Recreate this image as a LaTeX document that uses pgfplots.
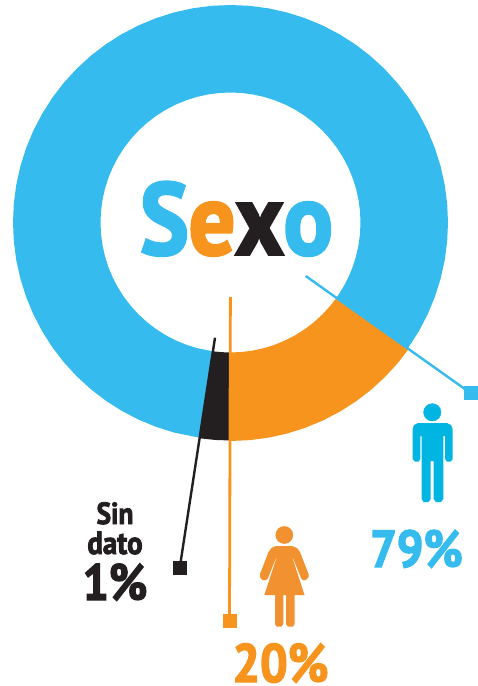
\documentclass[border=0pt]{standalone}
\usepackage{pgfplots}
\pgfplotsset{compat=1.18}
\usepackage{fontspec}
\setmainfont{PT Sans}
\newfontfamily\hvy[FakeBold=2.6,FakeStretch=0.9]{PT Sans Bold}
\definecolor{ringblue}{HTML}{35BBEE}
\definecolor{ringor}{HTML}{F7941D}
\definecolor{ringbk}{HTML}{231F20}
\definecolor{manc}{HTML}{00B5E2}
\definecolor{womc}{HTML}{F29130}
\begin{document}
\begin{tikzpicture}
\path[use as bounding box] (0,0) rectangle (478pt,686pt);
% ring, centred on the origin, angle/radius data
\begin{axis}[at={(0,0)},anchor=south west,scale only axis,width=478pt,height=686pt,
  xmin=-230.5,xmax=247.5,ymin=-463.5,ymax=222.5,axis lines=none,clip=false]
\addplot[fill=ringblue,draw=none,data cs=polar] coordinates {
(-35.3,217.5)(-30,217.5)(-25,217.5)(-20,217.5)(-15,217.5)(-10,217.5)(-5,217.5)(0,217.5)(5,217.5)(10,217.5)(15,217.5)(20,217.5)(25,217.5)(30,217.5)(35,217.5)(40,217.5)(45,217.5)(50,217.5)(55,217.5)(60,217.5)(65,217.5)(70,217.5)(75,217.5)(80,217.5)(85,217.5)(90,217.5)(95,217.5)(100,217.5)(105,217.5)(110,217.5)(115,217.5)(120,217.5)(125,217.5)(130,217.5)(135,217.5)(140,217.5)(145,217.5)(150,217.5)(155,217.5)(160,217.5)(165,217.5)(170,217.5)(175,217.5)(180,217.5)(185,217.5)(190,217.5)(195,217.5)(200,217.5)(205,217.5)(210,217.5)(215,217.5)(220,217.5)(225,217.5)(230,217.5)(235,217.5)(240,217.5)(245,217.5)(250,217.5)(255,217.5)(262,217.5)
(262,130)(255,130)(250,130)(245,130)(240,130)(235,130)(230,130)(225,130)(220,130)(215,130)(210,130)(205,130)(200,130)(195,130)(190,130)(185,130)(180,130)(175,130)(170,130)(165,130)(160,130)(155,130)(150,130)(145,130)(140,130)(135,130)(130,130)(125,130)(120,130)(115,130)(110,130)(105,130)(100,130)(95,130)(90,130)(85,130)(80,130)(75,130)(70,130)(65,130)(60,130)(55,130)(50,130)(45,130)(40,130)(35,130)(30,130)(25,130)(20,130)(15,130)(10,130)(5,130)(0,130)(-5,130)(-10,130)(-15,130)(-20,130)(-25,130)(-30,130)(-35.3,130)
} -- cycle;
\addplot[fill=ringor,draw=none,data cs=polar] coordinates {
(-90,218.5)(-85,218.5)(-80,218.5)(-75,218.5)(-70,218.5)(-65,218.5)(-60,218.5)(-55,218.5)(-50,218.5)(-45,218.5)(-40,218.5)(-35.3,218.5)
(-35.3,130)(-40,130)(-45,130)(-50,130)(-55,130)(-60,130)(-65,130)(-70,130)(-75,130)(-80,130)(-85,130)(-90,130)
} -- cycle;
\addplot[fill=ringbk,draw=none,data cs=polar] coordinates {
(-98,218)(-94,218)(-90,218)(-90,130)(-94,130)(-98,130)
} -- cycle;
\end{axis}
% overlay in picture coordinates
\begin{axis}[at={(0,0)},anchor=south west,scale only axis,width=478pt,height=686pt,
  xmin=0,xmax=478,ymin=0,ymax=686,y dir=reverse,axis lines=none,clip=false]
% leader lines
\addplot[ringblue,line width=2.4pt] coordinates {(305.7,276)(470.5,393)};
\addplot[ringbk,line width=2.4pt] coordinates {(215,337.7)(179.7,568)};
\addplot[ringor,line width=2.8pt] coordinates {(230.4,297)(229.5,621)};
\addplot[only marks,ringblue,mark=square*,mark size=6.5pt] coordinates {(470.5,393)};
\addplot[only marks,ringbk,mark=square*,mark size=6.5pt] coordinates {(179.7,568)};
\addplot[only marks,ringor,mark=square*,mark size=6.5pt] coordinates {(229.5,621)};
% man
\addplot[only marks,manc,mark=*,mark size=8.7pt] coordinates {(432.3,412.3)};
\addplot[fill=manc,draw=none] coordinates {
(418,423)(447,423)(451,425)(452.7,429)(452.7,459)(450.5,461.7)(447,461.7)(445,459)(445,436)(443.3,436)(443.3,499)(441,502)(436,502)(433.7,499)(433.7,461)(430.7,461)(430.7,499)(428.5,502)(423.5,502)(421.7,499)(421.7,436)(420.3,436)(420.3,459)(418.5,461.7)(415,461.7)(412.7,459)(412.7,429)(414,425)
} -- cycle;
% woman
\addplot[only marks,womc,mark=*,mark size=8.6pt] coordinates {(284.3,535)};
\addplot[fill=womc,draw=none] coordinates {
(276,546)(292,546)(297,548)(300,552)(308.5,574)(308.5,577)(306,580)(303,580)(301,578)(293,558)(292.5,558)(304.5,595)(294.5,595)(294.5,624)(293,626.7)(288,626.7)(286,624)(286,595)(283.3,595)(283.3,624)(281.5,626.7)(276.5,626.7)(275,624)(275,595)(264.3,595)(276.5,558)(276,558)(268,578)(266,580)(262.5,580)(260,577)(260,574)(268.5,552)(271.5,548)
} -- cycle;
% text
\node[anchor=base,inner sep=0,font=\hvy\fontsize{102}{102}\selectfont] at (axis cs:236.5,254.5) {\textcolor{ringblue}{S}\textcolor{ringor}{e}\textcolor{ringbk}{x}\textcolor{ringblue}{o}};
\node[anchor=base,inner sep=0,text=ringbk,font=\hvy\fontsize{30.5}{30.5}\selectfont] at (axis cs:115,524) {Sin};
\node[anchor=base,inner sep=0,text=ringbk,font=\hvy\fontsize{32}{32}\selectfont] at (axis cs:115,554) {dato};
\node[anchor=base,inner sep=0,text=ringbk,font=\hvy\fontsize{51}{51}\selectfont] at (axis cs:115,600) {1\%};
\node[anchor=base,inner sep=0,text=ringblue,font=\hvy\fontsize{52}{52}\selectfont] at (axis cs:416.5,567) {79\%};
\node[anchor=base,inner sep=0,text=ringor,font=\hvy\fontsize{54}{54}\selectfont] at (axis cs:280.5,682) {20\%};
\end{axis}
\end{tikzpicture}
\end{document}
